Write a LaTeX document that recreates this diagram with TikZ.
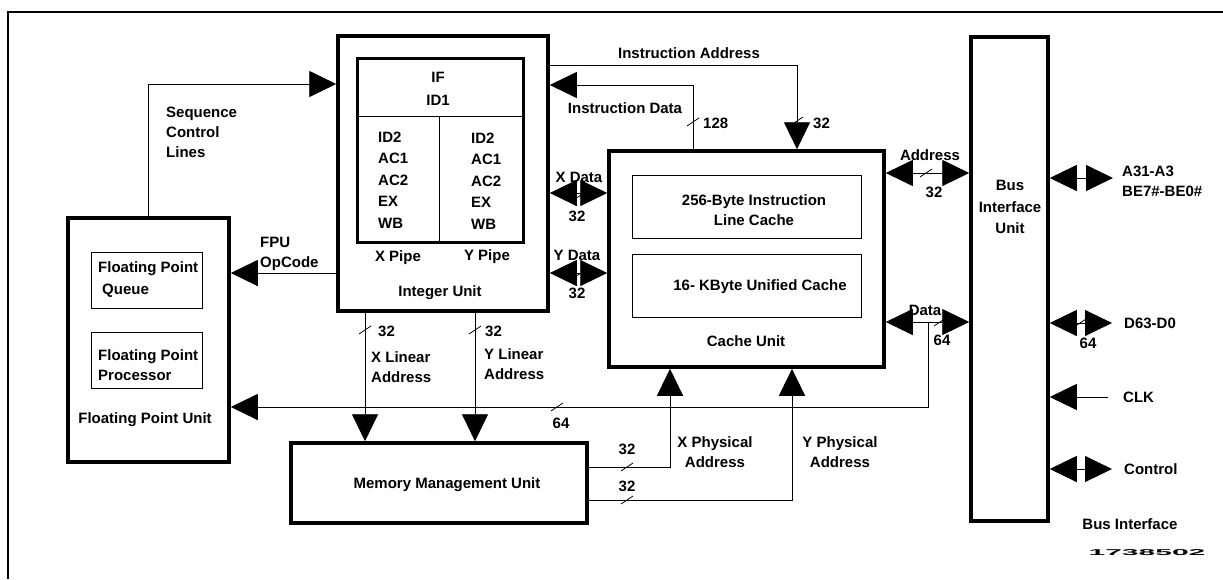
\documentclass[tikz,border=0pt]{standalone}
\usepackage{fontspec}
\setmainfont{Liberation Sans}
\usetikzlibrary{arrows.meta}

\begin{document}
\begin{tikzpicture}[
  x=1pt, y=-1pt,
  every node/.style={font=\bfseries\fontsize{15}{20}\selectfont, inner sep=0pt},
  unit/.style={draw, line width=3.5pt},
  sub/.style={draw, line width=0.9pt},
  txt/.style={align=left, anchor=west},
  rows/.style={font=\bfseries\fontsize{15}{21.4}\selectfont},
  ln/.style={line width=0.9pt},
  arr/.style={ln, -{Triangle[length=27pt,width=26pt]}},
  biarr/.style={ln, {Triangle[length=27pt,width=26pt]}-{Triangle[length=27pt,width=26pt]}},
  tick/.style={line width=0.8pt}
]
\useasboundingbox (0,0) rectangle (1223,579);
\draw[line width=2.5pt] (8,579) -- (8,12) -- (1223,12);

% integer unit
\node[unit, minimum width=210pt, minimum height=275pt] (iu) at (443,173.5) {};
\node[draw, line width=3pt, minimum width=166pt, minimum height=184pt] (pipe) at (440,150) {};
\draw[ln] (pipe.west |- 0,116) -- (pipe.east |- 0,116);
\draw[ln] (pipe.south -| 439,0) -- (439,116);
\node (stif) at (438,77) {IF};
\node (stid) at (438,100) {ID1};
\node[txt, rows] (xstages) at (378,180) {ID2\\AC1\\AC2\\EX\\WB};
\node[txt, rows] (ystages) at (471,181) {ID2\\AC1\\AC2\\EX\\WB};
\node (xpipe) at (398,258) {X Pipe};
\node (ypipe) at (487,257) {Y Pipe};
\node (iulabel) at (440,293) {Integer Unit};

% cache unit
\node[unit, minimum width=275pt, minimum height=216pt] (cu) at (746.5,259) {};
\node[sub, minimum width=229pt, minimum height=63pt] (icache) at (746.5,206.5) {};
\node[sub, minimum width=229pt, minimum height=63pt] (ucache) at (746.5,285.5) {};
\node[align=center] (icachelabel) at (754,210.5) {256-Byte Instruction\\Line Cache};
\node (ucachelabel) at (760,287) {16- KByte Unified Cache};
\node (culabel) at (746,341) {Cache Unit};

% bus interface unit
\node[unit, minimum width=77pt, minimum height=484pt] (biu) at (1009.5,279) {};
\node[align=center, rows] (biulabel) at (1010,207) {Bus\\Interface\\Unit};

% floating point unit
\node[unit, minimum width=161pt, minimum height=244pt] (fpu) at (148.5,340) {};
\node[sub, minimum width=111pt, minimum height=56pt] (fpq) at (146.5,280) {};
\node[sub, minimum width=111pt, minimum height=56pt] (fpp) at (146.5,360) {};
\node[txt, font=\bfseries\fontsize{15}{22}\selectfont] (fpqlabel) at (98,280) {Floating Point\\\hspace*{4pt}Queue};
\node[txt] (fpplabel) at (98,365) {Floating Point\\Processor};
\node (fpulabel) at (145,420) {Floating Point Unit};

% memory management unit
\node[unit, minimum width=296pt, minimum height=80pt] (mmu) at (439,483) {};
\node (mmulabel) at (447,485) {Memory Management Unit};

% free ends
\coordinate (dtap) at (928,322);
\coordinate (aext) at (1113,178);
\coordinate (dext) at (1112,323);
\coordinate (clkin) at (1108,397);
\coordinate (ctlext) at (1112,469);

% connectors
\draw[arr] (fpu.north) |- (iu.west |- 0,84);
\draw[arr] (iu.west |- 0,273) -- (fpu.east |- 0,273);
\draw[arr] (iu.east |- 0,65) -| (cu.north -| 797,0);
\draw[arr] (cu.north -| 693,0) |- (iu.east |- 0,85);
\draw[biarr] (iu.east |- 0,193) -- (cu.west |- 0,193);
\draw[biarr] (iu.east |- 0,273) -- (cu.west |- 0,273);
\draw[arr] (iu.south -| 365,0) -- (mmu.north -| 365,0);
\draw[arr] (iu.south -| 475,0) -- (mmu.north -| 475,0);
\draw[arr] (dtap) |- (fpu.east |- 0,407);
\draw[arr] (mmu.east |- 0,467) -| (cu.south -| 670,0);
\draw[arr] (mmu.east |- 0,500) -| (cu.south -| 792,0);
\draw[biarr] (cu.east |- 0,173) -- (biu.west |- 0,173);
\draw[biarr] (cu.east |- dtap) -- (biu.west |- dtap);
\draw[biarr] (biu.east |- aext) -- (aext);
\draw[biarr] (biu.east |- dext) -- (dext);
\draw[arr] (clkin) -- (biu.east |- clkin);
\draw[biarr] (biu.east |- ctlext) -- (ctlext);

% bus width marks
\foreach \p in {(693,122),(797,121),(578,197),(578,275),(365,330),(475,330),(557,407),(627,467),(627,500),(926,173),(940,322),(1080,323)}
  \draw[tick] \p ++(-6,4) -- ++(12,-8);

% labels
\node[txt] (seqlabel) at (166,132) {Sequence\\Control\\Lines};
\node[txt] (opclabel) at (260,254) {FPU\\OpCode};
\node (iaddrlabel) at (689,53) {Instruction Address};
\node (idatalabel) at (625,108) {Instruction Data};
\node[txt] (idatawidth) at (703,123) {128};
\node[txt] (iaddrwidth) at (813,123) {32};
\node (xdatalabel) at (579,177) {X Data};
\node (xdatawidth) at (577,216) {32};
\node (ydatalabel) at (577,255) {Y Data};
\node (ydatawidth) at (577,293) {32};
\node[txt] (xlinwidth) at (378,331) {32};
\node[txt] (xlinlabel) at (371,367) {X Linear\\Address};
\node[txt] (ylinwidth) at (485,331) {32};
\node[txt] (ylinlabel) at (484,364) {Y Linear\\Address};
\node (fpdatawidth) at (561,423) {64};
\node (xphyswidth) at (627,449) {32};
\node (yphyswidth) at (627,486) {32};
\node[align=center] (xphyslabel) at (715,452) {X Physical\\Address};
\node[align=center] (yphyslabel) at (840,452) {Y Physical\\Address};
\node (addrlabel) at (930,155) {Address};
\node (addrwidth) at (934,192) {32};
\node (datalabel) at (925,310) {Data};
\node (datawidth) at (942,340) {64};
\node[txt] (apins) at (1122,181) {A31-A3\\BE7\#-BE0\#};
\node[txt] (dpins) at (1124,323) {D63-D0};
\node (dpinwidth) at (1088,343) {64};
\node[txt] (clkpin) at (1123,397) {CLK};
\node[txt] (ctlpin) at (1124,469) {Control};
\node (buslabel) at (1130,524) {Bus Interface};
\node (fignum) at (1147,553) {\scalebox{3}[0.85]{\fontsize{10}{10}\selectfont\bfseries 1738502}};
\end{tikzpicture}
\end{document}
